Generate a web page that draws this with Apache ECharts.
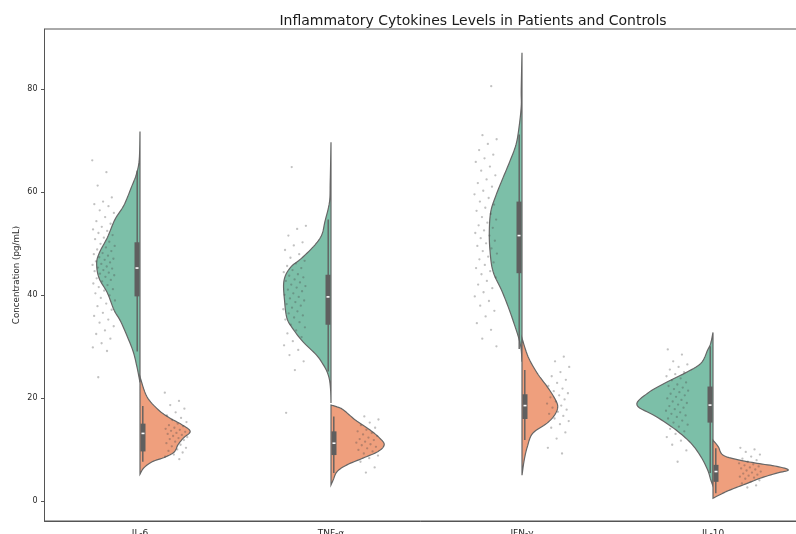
<!DOCTYPE html>
<html><head><meta charset="utf-8">
<script src="https://cdn.jsdelivr.net/npm/echarts@6/dist/echarts.min.js"></script>
<style>html,body{margin:0;padding:0;background:#fff}#c{width:796px;height:534px}</style>
</head><body><div id="c"></div>
<script>
const categories = ['IL-6', 'TNF-α', 'IFN-γ', 'IL-10'];
const groups = ['Patients', 'Controls'];
const yTicks = [0, 20, 40, 60, 80];

// violin density profiles: [value, relative half-width in % of the widest half]
const il6PatProfile = [[71.7,0],[66.2,1],[63.3,5],[61,11],[58.4,18],[56.9,23],[54.6,33],[51.1,43],[48.3,53],[46.2,57],[43.3,54],[40.4,43],[37,34],[35,26],[32,17],[29,9],[26,4],[23,0]];
const tnfPatProfile = [[69.6,0],[62,1],[58,2],[54.2,8],[51.7,12],[49.7,21],[47.2,38],[45.2,54],[42.6,62],[38.7,61],[35.5,58],[33.6,51],[30.9,37],[28.3,19],[26.4,10],[25,5],[23.5,2],[21.5,0.5],[19,0]];
const ifnPatProfile = [[87,0],[79.8,1],[76.6,1],[72.4,4],[69.1,8],[65.9,16],[62.7,25],[59.4,34],[56.2,41],[52.3,43],[48.4,42],[44.5,38],[40.6,26],[36.8,16],[32.9,7],[30.9,3],[29.3,1],[27,0]];
const il10PatProfile = [[32.7,0],[30.6,3],[29.3,7],[26.7,16],[24.8,37],[22.9,63],[20.9,86],[18.6,100],[16.4,75],[13.8,49],[11.2,29],[8.6,16],[6,7],[4.1,3],[2.9,0]];

const il6CtrlProfile = [[24.1,0],[20.25,9],[17.7,24],[16.1,39],[14.8,55],[13.5,66],[12.2,57],[10.9,50],[9.5,45],[8.5,33],[7.6,16],[6.4,5],[5.2,0]];
const tnfCtrlProfile = [[18.6,0],[18.3,7],[17.7,16],[15.7,32],[13.8,51],[12.2,64],[10.9,70],[9.6,62],[8.3,42],[7.0,21],[5.7,8],[4.1,3],[3.1,0]];
const ifnCtrlProfile = [[31.6,0],[28,8],[24.8,20],[22.2,33],[19.9,43],[18.3,47],[16.7,43],[15.1,33],[13.1,14],[10.5,7],[8,3],[5,0]];
const il10CtrlProfile = [[11.8,0],[10.5,7],[8.9,13],[8,32],[7.3,58],[6.7,84],[6,99],[5.4,84],[4.4,62],[3.4,45],[2.1,22],[1.2,9],[0.5,0]];

// box stats: [whisker low, Q1, median, Q3, whisker high]
const patBoxes = [[29.0,39.7,45.2,50.2,64.1],[25.1,34.2,39.6,43.9,54.6],[29.5,44.2,51.5,58.1,71.1],[5.4,15.2,18.6,22.2,30.0]];
const ctrlBoxes = [[7.6,9.6,13.1,15.0,18.4],[5.4,8.9,11.2,13.5,16.4],[11.8,15.9,18.5,20.7,25.4],[1.5,3.7,5.7,7.0,10.2]];

// individual observations (strip points)
const il6PatPoints = [66.1,63.8,61.2,58.9,58.1,57.6,57.2,56.4,55.9,55.1,54.3,53.8,53.2,52.7,52.4,52.0,51.6,51.1,50.8,50.3,49.9,49.5,49.2,48.8,48.5,48.1,47.9,47.6,47.3,47.0,46.8,46.5,46.3,46.0,45.8,45.5,45.3,45.1,44.8,44.6,44.3,44.1,43.8,43.5,43.2,42.9,42.6,42.2,41.9,41.5,41.1,40.8,40.3,39.9,39.4,38.9,38.3,37.8,37.1,36.5,35.9,35.2,34.6,33.9,33.1,32.4,31.5,30.6,29.8,29.1,24.0];
const tnfPatPoints = [64.8,53.4,52.8,51.5,50.2,49.6,48.7,47.9,47.2,46.6,46.1,45.6,45.2,44.8,44.4,44.0,43.7,43.4,43.0,42.7,42.4,42.0,41.7,41.4,41.0,40.7,40.3,40.0,39.6,39.3,38.9,38.6,38.2,37.9,37.5,37.2,36.8,36.4,36.0,35.6,35.2,34.7,34.2,33.7,33.1,32.5,31.8,31.0,30.2,29.3,28.3,27.1,25.4,17.1];
const ifnPatPoints = [80.5,71.0,70.2,69.3,68.1,67.2,66.5,65.8,64.9,64.1,63.2,62.4,61.7,61.0,60.2,59.5,58.8,58.1,57.5,56.9,56.3,55.7,55.1,54.6,54.0,53.5,53.0,52.5,52.0,51.5,51.0,50.5,50.0,49.5,49.0,48.5,48.0,47.4,46.9,46.3,45.8,45.2,44.6,44.0,43.4,42.7,42.0,41.3,40.5,39.7,38.8,37.9,36.9,35.8,34.5,33.2,31.5,30.0];
const il10PatPoints = [29.4,28.4,27.1,26.5,26.0,25.5,25.0,24.6,24.2,23.8,23.4,23.0,22.6,22.3,22.0,21.7,21.4,21.1,20.8,20.5,20.2,19.9,19.6,19.3,19.0,18.7,18.4,18.1,17.8,17.5,17.2,16.9,16.6,16.3,16.0,15.6,15.2,14.8,14.4,14.0,13.5,13.0,12.4,11.7,10.9,9.8,7.6];
const il6CtrlPoints = [21.0,19.4,18.6,17.9,17.2,16.6,16.1,15.7,15.3,15.0,14.7,14.5,14.2,14.0,13.8,13.6,13.4,13.2,13.0,12.8,12.6,12.4,12.2,12.0,11.8,11.5,11.2,10.9,10.6,10.3,10.0,9.7,9.4,9.0,8.6,8.1];
const tnfCtrlPoints = [16.4,15.8,15.2,14.7,14.2,13.8,13.5,13.2,12.9,12.6,12.3,12.0,11.8,11.5,11.3,11.0,10.8,10.5,10.2,9.9,9.6,9.2,8.8,8.3,7.6,6.5,5.5];
const ifnCtrlPoints = [28.0,27.1,26.0,25.0,24.2,23.5,22.9,22.3,21.8,21.3,20.9,20.5,20.1,19.7,19.3,18.9,18.5,18.1,17.7,17.3,16.9,16.5,16.0,15.5,14.9,14.2,13.3,12.1,10.3,9.2];
const il10CtrlPoints = [10.3,10.0,9.5,9.0,8.6,8.2,7.9,7.6,7.3,7.1,6.9,6.7,6.5,6.3,6.1,5.9,5.7,5.5,5.3,5.1,4.9,4.7,4.5,4.3,4.0,3.7,3.4,3.0,2.6];

const patProfiles = [il6PatProfile, tnfPatProfile, ifnPatProfile, il10PatProfile];
const ctrlProfiles = [il6CtrlProfile, tnfCtrlProfile, ifnCtrlProfile, il10CtrlProfile];
const patPoints = [il6PatPoints, tnfPatPoints, ifnPatPoints, il10PatPoints];
const ctrlPoints = [il6CtrlPoints, tnfCtrlPoints, ifnCtrlPoints, il10CtrlPoints];

// styles
const COLORS = ['#7cbfa8', '#ef9f7d'];
const LINE = '#666666';
const MAXW = 0.398;       // widest half-violin, in category units
const DODGE = 0.19;       // strip offset
const JIT = 0.06;         // strip jitter half-range
const FONT = 'DejaVu Sans';

function catmull(pts, n) {
  const out = [];
  for (let i = 0; i < pts.length - 1; i++) {
    const p0 = pts[Math.max(i - 1, 0)], p1 = pts[i], p2 = pts[i + 1], p3 = pts[Math.min(i + 2, pts.length - 1)];
    for (let s = 0; s < n; s++) {
      const t = s / n, t2 = t * t, t3 = t2 * t;
      const f = (a, b, c, d) => 0.5 * ((2 * b) + (-a + c) * t + (2 * a - 5 * b + 4 * c - d) * t2 + (-a + 3 * b - 3 * c + d) * t3);
      out.push([f(p0[0], p1[0], p2[0], p3[0]), f(p0[1], p1[1], p2[1], p3[1])]);
    }
  }
  out.push(pts[pts.length - 1]);
  return out;
}

function makeRender(profiles, boxes, side, color) {
  return function (params, api) {
    const i = api.value(0);
    const prof = profiles[i];
    const cx = api.coord([i, 0])[0];
    const raw = prof.map(([v, d]) => api.coord([i + side * d / 100 * MAXW, v]));
    const pts = catmull(raw, 8).map(([x, y]) => [side < 0 ? Math.min(x, cx) : Math.max(x, cx), y]);
    const b = boxes[i];
    const yWl = api.coord([i, b[0]])[1], yQ1 = api.coord([i, b[1]])[1], yMd = api.coord([i, b[2]])[1],
          yQ3 = api.coord([i, b[3]])[1], yWh = api.coord([i, b[4]])[1];
    const bx0 = side < 0 ? cx - 5.5 : cx + 0.5;
    const wx = side < 0 ? cx - 2.8 : cx + 2.8;
    return {
      type: 'group',
      children: [
        { type: 'polygon', shape: { points: pts }, style: { fill: color, stroke: LINE, lineWidth: 1.2 } },
        { type: 'line', shape: { x1: wx, y1: yWh, x2: wx, y2: yWl }, style: { stroke: '#5f5f5f', lineWidth: 1.4 } },
        { type: 'rect', shape: { x: bx0, y: yQ3, width: 5, height: yQ1 - yQ3 }, style: { fill: '#5f5f5f' } },
        { type: 'rect', shape: { x: bx0 + 1, y: yMd - 0.8, width: 3, height: 1.6 }, style: { fill: '#ffffff' } }
      ]
    };
  };
}

function stripData(pointsList, side) {
  const out = [];
  pointsList.forEach((arr, i) => {
    arr.forEach((v, k) => {
      const j = (((k * 0.618034 + i * 0.37) % 1) - 0.5) * 2 * JIT;
      out.push([i + side * DODGE + j, v]);
    });
  });
  return out;
}

const chart = echarts.init(document.getElementById('c'), null, { renderer: 'canvas' });
chart.setOption({
  animation: false,
  backgroundColor: '#ffffff',
  textStyle: { fontFamily: FONT },
  title: {
    text: 'Inflammatory Cytokines Levels in Patients and Controls',
    left: 468, top: 9, textAlign: 'center',
    textStyle: { fontFamily: FONT, fontSize: 14, fontWeight: 'normal', color: '#1a1a1a' }
  },
  grid: {
    left: 44.5, top: 29, width: 764, height: 492, show: true, borderColor: '#555', borderWidth: 1,
    backgroundColor: 'transparent', containLabel: false, outerBoundsMode: 'none'
  },
  xAxis: [
    {
      type: 'category', data: categories, boundaryGap: true,
      axisLine: { onZero: false, lineStyle: { color: '#555', width: 1 } },
      axisTick: { alignWithLabel: true, length: 3.5, lineStyle: { color: '#555' } },
      axisLabel: { fontSize: 9, color: '#262626', margin: 8, fontFamily: FONT },
      splitLine: { show: false }
    },
    { type: 'value', min: -0.5, max: 3.5, show: false, axisLine: { onZero: false } }
  ],
  yAxis: {
    type: 'value', min: -3.9, max: 91.6,
    name: 'Concentration (pg/mL)', nameLocation: 'middle', nameGap: 23, nameMoveOverlap: false,
    nameTextStyle: { fontSize: 8.7, color: '#262626', fontFamily: FONT },
    axisLine: { show: true, onZero: false, lineStyle: { color: '#555', width: 1 } },
    axisTick: { show: true, length: 3.5, customValues: yTicks, lineStyle: { color: '#555' } },
    axisLabel: { fontSize: 8, color: '#262626', margin: 7, customValues: yTicks, fontFamily: FONT },
    splitLine: { show: false }
  },
  series: [
    { name: groups[0], type: 'custom', xAxisIndex: 1, data: [0, 1, 2, 3].map(i => [i]), renderItem: makeRender(patProfiles, patBoxes, -1, COLORS[0]), z: 2 },
    { name: groups[1], type: 'custom', xAxisIndex: 1, data: [0, 1, 2, 3].map(i => [i]), renderItem: makeRender(ctrlProfiles, ctrlBoxes, 1, COLORS[1]), z: 2 },
    { name: groups[0] + ' points', type: 'scatter', xAxisIndex: 1, data: stripData(patPoints, -1), symbolSize: 2.3, itemStyle: { color: 'rgba(70,70,70,0.42)' }, z: 5 },
    { name: groups[1] + ' points', type: 'scatter', xAxisIndex: 1, data: stripData(ctrlPoints, 1), symbolSize: 2.3, itemStyle: { color: 'rgba(70,70,70,0.42)' }, z: 5 }
  ]
});
</script></body></html>
